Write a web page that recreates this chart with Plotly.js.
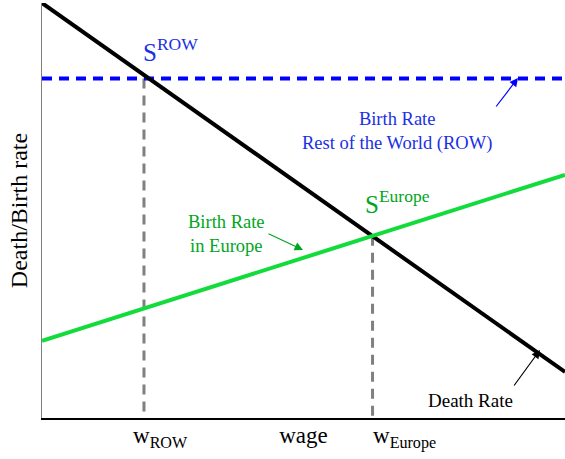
<!DOCTYPE html>
<html>
<head>
<meta charset="utf-8">
<script src="https://cdn.plot.ly/plotly-3.0.1.min.js"></script>
<style>html,body{margin:0;padding:0;background:#fff;}#chart{width:565px;height:459px;}</style>
</head>
<body>
<div id="chart"></div>
<script>
// ---- data ----
const wage = [0, 10];
const deathRate = [10, 1.11];
const birthRateEurope = [1.86, 5.86];
const birthRateROW = [8.18, 8.18];
const wageLevels = [1.95, 6.32];          // w_ROW, w_Europe
const steadyStateRates = [8.18, 4.39];    // S_ROW, S_Europe
const wageLabels = ['w<sub>ROW</sub>', 'w<sub>Europe</sub>'];

// ---- geometry helpers for placing labels (pixel -> paper) ----
const L = 42, R = 0, T = 3, B = 41, W = 565, H = 459;
const pw = W - L - R, ph = H - T - B;
const PX = px => (px - L) / pw;
const PY = py => (H - B - py) / ph;

const serif = 'Liberation Serif, Times New Roman, serif';
const blue = '#0000ff', green = '#12dc3c', gray = '#808080';
const blueText = '#1a2fe6', greenText = '#00a622';

const traces = [
  {x: [wageLevels[0], wageLevels[0]], y: [steadyStateRates[0], 0], mode: 'lines',
   line: {color: gray, width: 3, dash: '10px,7px'}, hoverinfo: 'skip'},
  {x: [wageLevels[1], wageLevels[1]], y: [steadyStateRates[1], 0], mode: 'lines',
   line: {color: gray, width: 3, dash: '10px,7px'}, hoverinfo: 'skip'},
  {x: wage, y: birthRateROW, mode: 'lines', line: {color: blue, width: 4, dash: '10px,7px'}},
  {x: wage, y: deathRate, mode: 'lines', line: {color: '#000', width: 4}},
  {x: wage, y: birthRateEurope, mode: 'lines', line: {color: green, width: 4}}
];

function txt(text, px, py, size, color, xanchor) {
  return {text: text, x: PX(px), y: PY(py), xref: 'paper', yref: 'paper',
    showarrow: false, xanchor: xanchor || 'center', yanchor: 'middle',
    font: {family: serif, size: size, color: color}};
}
function arrow(hx, hy, tx, ty, color) {
  return {text: '', x: PX(hx), y: PY(hy), xref: 'paper', yref: 'paper', showarrow: true,
    ax: tx - hx, ay: ty - hy, arrowhead: 2, arrowsize: 1.4, arrowwidth: 1.2,
    arrowcolor: color, standoff: 0};
}

const annotations = [
  txt('S<sup>ROW</sup>', 141, 50, 25, blueText, 'left'),
  txt('Birth Rate<br>Rest of the World (ROW)', 397, 131, 18.5, blueText),
  txt('S<sup>Europe</sup>', 363, 202, 25, greenText, 'left'),
  txt('Birth Rate<br>in Europe', 226, 234, 18.5, greenText),
  txt('Death Rate', 470, 400, 19, '#000'),
  txt(wageLabels[0], 131, 437, 23, '#000', 'left'),
  txt(wageLabels[1], 371, 437, 23, '#000', 'left'),
  arrow(518, 78, 495, 108, blue),
  arrow(303, 250, 267, 233, '#00a622'),
  arrow(540, 350, 513, 387, '#000')
];

const layout = {
  width: W, height: H,
  margin: {l: L, r: R, t: T, b: B},
  paper_bgcolor: '#fff', plot_bgcolor: '#fff',
  showlegend: false,
  xaxis: {range: [0, 10], showgrid: false, zeroline: false, showticklabels: false, ticks: '',
    showline: true, linecolor: '#000', linewidth: 1.5, fixedrange: true,
    title: {text: 'wage', font: {family: serif, size: 23, color: '#000'}, standoff: 8}},
  yaxis: {range: [0, 10], showgrid: false, zeroline: false, showticklabels: false, ticks: '',
    showline: true, linecolor: gray, linewidth: 1.5, fixedrange: true,
    title: {text: 'Death/Birth rate', font: {family: serif, size: 24, color: '#000'}, standoff: 6}},
  annotations: annotations
};

Plotly.newPlot('chart', traces, layout, {displayModeBar: false, staticPlot: true});
</script>
</body>
</html>
